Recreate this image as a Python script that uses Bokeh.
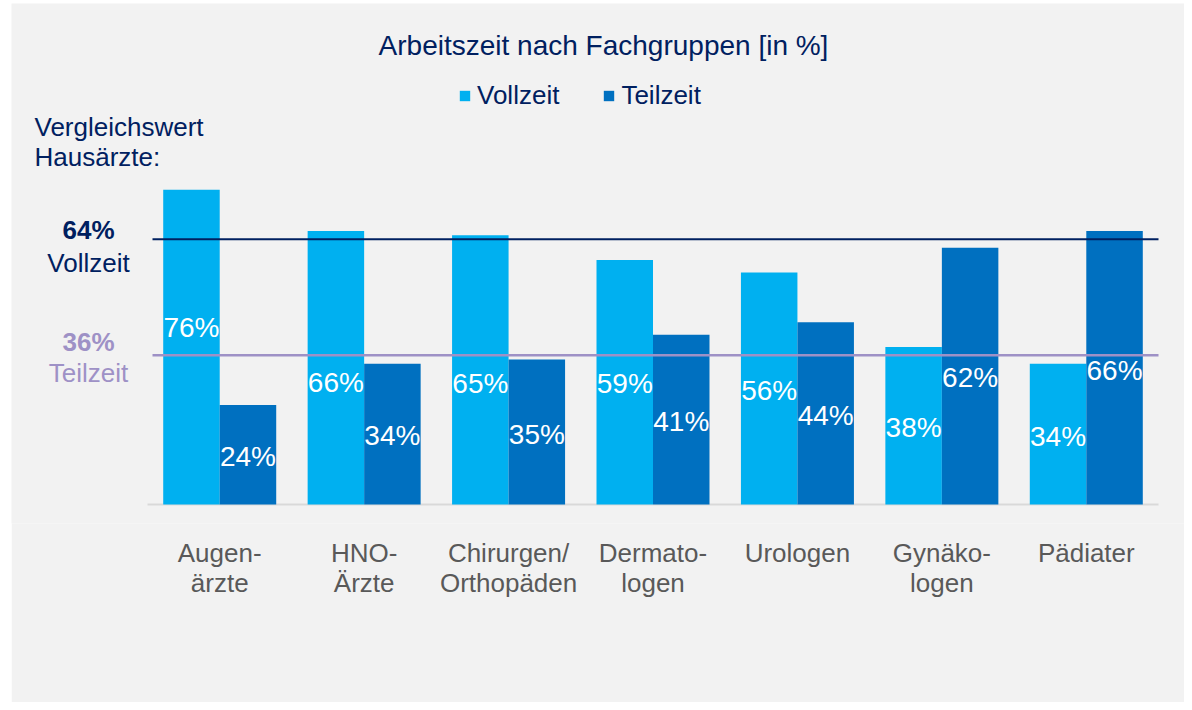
from bokeh.plotting import figure
from bokeh.models import Range1d, ColumnDataSource, FixedTicker, Legend, LegendItem, Spacer
from bokeh.layouts import row, column
from bokeh.core.properties import value
from bokeh.transform import dodge
from bokeh.embed import file_html
from bokeh.resources import INLINE

# ---- data ----
categories = ["Augen-\närzte", "HNO-\nÄrzte", "Chirurgen/\nOrthopäden", "Dermato-\nlogen",
              "Urologen", "Gynäko-\nlogen", "Pädiater"]
vollzeit = [76, 66, 65, 59, 56, 38, 34]
teilzeit = [24, 34, 35, 41, 44, 62, 66]
ref_vollzeit = 64
ref_teilzeit = 36
title_text = "Arbeitszeit nach Fachgruppen [in %]"

# label vertical positions (in % units) as placed in the original
vz_label_y = [42.7, 29.4, 29.2, 29.2, 27.5, 18.6, 16.5]
tz_label_y = [11.6, 16.7, 16.9, 20.0, 21.6, 30.7, 32.3]

# ---- layout helpers ----
OX, OY = 11, 3      # white strip left / top
W, H = 1184 - OX, 702 - OY
FRAME_H = 520
X0 = 136.0          # canvas x of category 0 left edge
CW = 144.43         # px per category
BASE = 501.0        # canvas y of 0 %
PY = 4.143          # px per %

def dx(ref_x):
    return (ref_x - OX - X0) / CW

def dy(ref_y):
    return (BASE - (ref_y - OY)) / PY

NAVY = "#002060"
LAV = "#9E91C6"
C_V = "#00B0F0"
C_T = "#0070C0"
GRAY_TXT = "#595959"
FONT = value("Liberation Sans")

p = figure(width=W, height=H, output_backend="svg", toolbar_location=None,
           x_range=Range1d(-X0 / CW, (W - X0) / CW),
           y_range=Range1d(-(FRAME_H - BASE) / PY, BASE / PY),
           y_axis_location=None, min_border_left=0, min_border_right=0,
           min_border_top=0, min_border_bottom=H - FRAME_H)
p.background_fill_color = "#F2F2F2"
p.border_fill_color = "#F2F2F2"
p.outline_line_color = None
p.grid.visible = False

xs = [i + 0.5 for i in range(len(categories))]
src = ColumnDataSource(dict(x=xs, v=vollzeit, t=teilzeit,
                            vl=[f"{a}%" for a in vollzeit], tl=[f"{b}%" for b in teilzeit],
                            vy=vz_label_y, ty=tz_label_y))

BW = 56.5 / CW
# baseline
p.segment(x0=[0], y0=[0], x1=[len(categories)], y1=[0], line_color="#D9D9D9", line_width=2)

rv = p.vbar(x=dodge("x", -BW / 2), top="v", width=BW, source=src, fill_color=C_V, line_color=None)
rt = p.vbar(x=dodge("x", BW / 2), top="t", width=BW, source=src, fill_color=C_T, line_color=None)

# reference lines
p.segment(x0=[dx(152)], y0=[ref_vollzeit], x1=[len(categories)], y1=[ref_vollzeit],
          line_color=NAVY, line_width=2)
p.segment(x0=[dx(152)], y0=[ref_teilzeit], x1=[len(categories)], y1=[ref_teilzeit],
          line_color=LAV, line_width=2.5)

# value labels
p.text(x=dodge("x", -BW / 2), y="vy", text="vl", source=src, text_color="white",
       text_font=FONT, text_font_size=value("28px"), text_align="center", text_baseline="middle")
p.text(x=dodge("x", BW / 2), y="ty", text="tl", source=src, text_color="white",
       text_font=FONT, text_font_size=value("28px"), text_align="center", text_baseline="middle")

# title
p.text(x=[dx(603)], y=[dy(45)], text=[title_text], text_color=NAVY, text_font=FONT,
       text_font_size=value("28px"), text_align="center", text_baseline="middle")

# left annotations
p.text(x=[dx(34), dx(34)], y=[dy(126), dy(156)], text=["Vergleichswert", "Hausärzte:"],
       text_color=NAVY, text_font=FONT, text_font_size=value("26px"),
       text_align="left", text_baseline="middle")
p.text(x=[dx(88)], y=[dy(229)], text=[f"{ref_vollzeit}%"], text_color=NAVY, text_font=FONT,
       text_font_size=value("26px"), text_font_style="bold", text_align="center", text_baseline="middle")
p.text(x=[dx(88)], y=[dy(262)], text=["Vollzeit"], text_color=NAVY, text_font=FONT,
       text_font_size=value("26px"), text_align="center", text_baseline="middle")
p.text(x=[dx(88)], y=[dy(341)], text=[f"{ref_teilzeit}%"], text_color=LAV, text_font=FONT,
       text_font_size=value("26px"), text_font_style="bold", text_align="center", text_baseline="middle")
p.text(x=[dx(88)], y=[dy(372)], text=["Teilzeit"], text_color=LAV, text_font=FONT,
       text_font_size=value("26px"), text_align="center", text_baseline="middle")

# x axis with categories
ax = p.xaxis[0]
ax.ticker = FixedTicker(ticks=xs)
ax.major_label_overrides = {x: c for x, c in zip(xs, categories)}
ax.axis_line_color = None
ax.major_tick_line_color = None
ax.minor_tick_line_color = None
ax.major_tick_out = 0
ax.major_tick_in = 0
ax.major_label_standoff = 14
ax.major_label_text_font = "Liberation Sans"
ax.major_label_text_font_size = "26px"
ax.major_label_text_color = GRAY_TXT
ax.major_label_text_line_height = 1.0

legend = Legend(items=[LegendItem(label="Vollzeit", renderers=[rv]),
                       LegendItem(label="Teilzeit", renderers=[rt])],
                orientation="horizontal", location=(458 - OX, 412),
                glyph_width=13, glyph_height=13, label_standoff=6, spacing=43,
                padding=0, margin=0, label_text_font="Liberation Sans",
                label_text_font_size="26px", label_text_color=NAVY,
                background_fill_alpha=0, border_line_color=None)
p.add_layout(legend)

layout = column(Spacer(width=W + OX, height=OY), row(Spacer(width=OX, height=H), p))
open("out.html", "w").write(file_html(layout, INLINE))
